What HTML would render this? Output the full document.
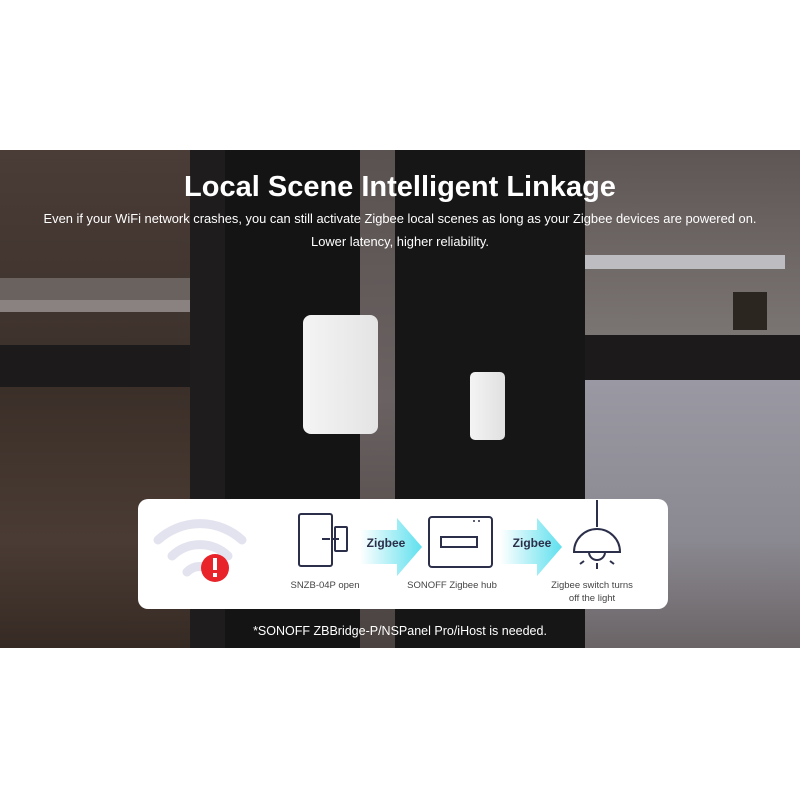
<!DOCTYPE html>
<html><head><meta charset="utf-8"><style>
body{margin:0;width:800px;height:800px;background:#fff;position:relative;overflow:hidden;font-family:"Liberation Sans",sans-serif}
.a{position:absolute}
</style></head><body>
<div class="a" style="left:0;top:150px;width:800px;height:498px;background:#3c322e;overflow:hidden">
 <div class="a" style="left:0;top:0;width:200px;height:200px;background:linear-gradient(#4a3c36,#3e322c)"></div>
 <div class="a" style="left:0;top:128px;width:190px;height:30px;background:#6a625e"></div>
 <div class="a" style="left:0;top:150px;width:190px;height:12px;background:#8a8280"></div>
 <div class="a" style="left:0;top:230px;width:190px;height:268px;background:linear-gradient(#3a2e28,#4a3c34 60%,#362a24)"></div>
 <div class="a" style="left:0;top:195px;width:220px;height:42px;background:#1c1a1a"></div>
 <div class="a" style="left:190px;top:0;width:35px;height:498px;background:#1e1c1c"></div>
 <div class="a" style="left:225px;top:0;width:135px;height:498px;background:#141414"></div>
 <div class="a" style="left:360px;top:0;width:37px;height:498px;background:linear-gradient(#5a5250,#6a6262 50%,#4a4240)"></div>
 <div class="a" style="left:395px;top:0;width:190px;height:498px;background:#161616"></div>
 <div class="a" style="left:585px;top:0;width:215px;height:185px;background:linear-gradient(#5e5654,#7a7472)"></div>
 <div class="a" style="left:585px;top:105px;width:200px;height:14px;background:#bdbcc0"></div>
 <div class="a" style="left:585px;top:185px;width:215px;height:45px;background:#1c1a1a"></div>
 <div class="a" style="left:585px;top:230px;width:215px;height:268px;background:linear-gradient(#9a98a2,#8a8890 60%,#6a6466)"></div>
 <div class="a" style="left:733px;top:142px;width:34px;height:38px;background:#2c2620"></div>
 <div class="a" style="left:303px;top:165px;width:75px;height:119px;background:linear-gradient(90deg,#f4f4f4,#e4e4e4);border-radius:8px"></div>
 <div class="a" style="left:470px;top:222px;width:35px;height:68px;background:linear-gradient(90deg,#f4f4f4,#e0e0e0);border-radius:5px"></div>
</div>
<div class="a" style="left:0;top:171px;width:800px;text-align:center;color:#fff;font-weight:bold;font-size:29px">Local Scene Intelligent Linkage</div>
<div class="a" style="left:0;top:207px;width:800px;text-align:center;color:#fff;font-size:12.9px;line-height:23px">Even if your WiFi network crashes, you can still activate Zigbee local scenes as long as your Zigbee devices are powered on.<br>Lower latency, higher reliability.</div>
<div class="a" style="left:138px;top:499px;width:530px;height:110px;background:#fff;border-radius:10px"></div>
<svg class="a" style="left:0;top:0" width="800" height="800">
 <defs><linearGradient id="g" x1="0" x2="1"><stop offset="0" stop-color="#fff"/><stop offset="1" stop-color="#5fe0ee"/></linearGradient></defs>
 <g fill="none" stroke="#e2e3ee" stroke-width="9" stroke-linecap="round">
  <path d="M158 540 A62 62 0 0 1 242 540"/><path d="M172 556 A40 40 0 0 1 228 556"/><path d="M187 572 A18 18 0 0 1 213 572"/>
 </g>
 <circle cx="215" cy="568" r="14" fill="#e8232a"/>
 <rect x="213" y="558" width="4" height="12" fill="#fff"/><rect x="213" y="573" width="4" height="4" fill="#fff"/>
 <g fill="none" stroke="#2b2f4a" stroke-width="2">
  <rect x="299" y="514" width="33" height="52" rx="2"/><rect x="335" y="527" width="12" height="24" rx="1"/>
  <line x1="322" y1="539" x2="330" y2="539"/><line x1="333" y1="539" x2="339" y2="539"/>
  <rect x="429" y="517" width="63" height="50" rx="3"/><rect x="441" y="537" width="36" height="10"/>
  <line x1="597" y1="500" x2="597" y2="527"/><path d="M574 552 A23 23 0 0 1 620 552 Z"/>
  <path d="M589 552 A8 8 0 0 0 605 552"/><line x1="597" y1="563" x2="597" y2="569"/><line x1="584" y1="561" x2="580" y2="564"/><line x1="610" y1="561" x2="614" y2="564"/>
 </g>
 <circle cx="474" cy="521" r="1" fill="#2b2f4a"/><circle cx="479" cy="521" r="1" fill="#2b2f4a"/>
 <path d="M360 530 L397 530 L397 518 L422 547 L397 576 L397 564 L360 564Z" fill="url(#g)"/>
 <path d="M500 530 L537 530 L537 518 L562 547 L537 576 L537 564 L500 564Z" fill="url(#g)"/>
 <g font-family="Liberation Sans, sans-serif" fill="#2b2f4a" font-weight="bold" font-size="12" text-anchor="middle">
  <text x="386" y="547">Zigbee</text><text x="532" y="547">Zigbee</text>
 </g>
 <g font-family="Liberation Sans, sans-serif" fill="#444" font-size="9.5" text-anchor="middle">
  <text x="325" y="588">SNZB-04P open</text><text x="452" y="588">SONOFF Zigbee hub</text>
  <text x="592" y="588">Zigbee switch turns</text><text x="592" y="601">off the light</text>
 </g>
</svg>
<div class="a" style="left:0;top:624px;width:800px;text-align:center;color:#fff;font-size:12.5px">*SONOFF ZBBridge-P/NSPanel Pro/iHost is needed.</div>
</body></html>
